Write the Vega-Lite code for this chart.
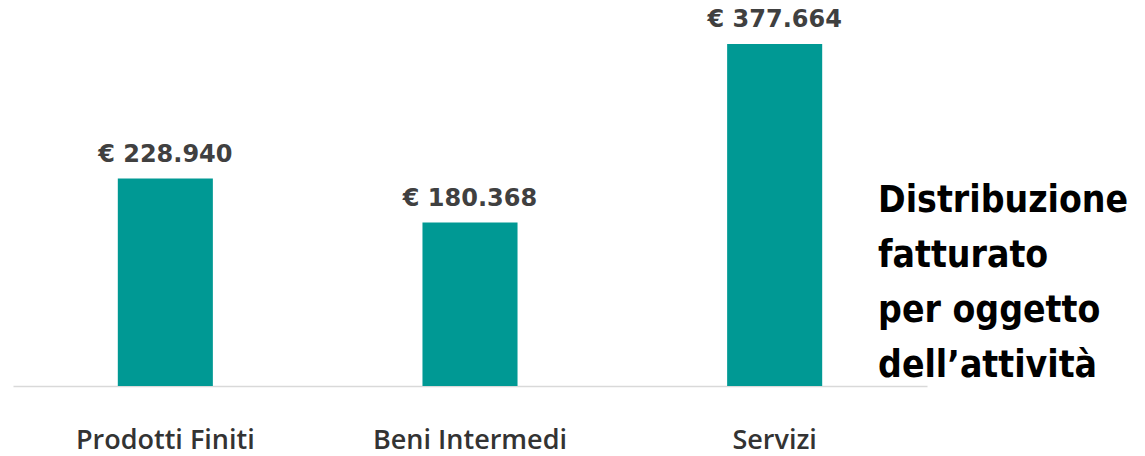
{
  "$schema": "https://vega.github.io/schema/vega-lite/v6.json",
  "width": 914,
  "height": 380,
  "autosize": {"type": "none"},
  "padding": {"left": 13, "top": 6, "right": 218, "bottom": 70},
  "background": "white",
  "config": {
    "view": {"stroke": null},
    "locale": {"number": {"decimal": ",", "thousands": ".", "grouping": [3], "currency": ["€ ", ""]}}
  },
  "title": {
    "text": ["Distribuzione", "fatturato", "per oggetto", "dell’attività"],
    "orient": "right",
    "angle": 0,
    "anchor": "start",
    "align": "left",
    "baseline": "top",
    "font": "DejaVu Sans Condensed",
    "fontWeight": "bold",
    "fontSize": 37,
    "lineHeight": 55,
    "color": "black",
    "offset": -49,
    "dx": -250,
    "dy": 177
  },
  "data": {
    "values": [
      {"categoria": "Prodotti Finiti", "fatturato": 228940},
      {"categoria": "Beni Intermedi", "fatturato": 180368},
      {"categoria": "Servizi", "fatturato": 377664}
    ]
  },
  "encoding": {
    "x": {
      "field": "categoria",
      "type": "nominal",
      "sort": null,
      "scale": {"paddingInner": 0.688, "paddingOuter": 0.344},
      "axis": {
        "title": null,
        "labelAngle": 0,
        "ticks": false,
        "domainColor": "#d9d9d9",
        "domainWidth": 1.5,
        "labelPadding": 54,
        "labelBaseline": "middle",
        "labelLimit": 0,
        "labelFont": "Open Sans",
        "labelFontWeight": 600,
        "labelFontSize": 27,
        "labelColor": "#333333"
      }
    },
    "y": {
      "field": "fatturato",
      "type": "quantitative",
      "scale": {"domain": [0, 419500]},
      "axis": null
    }
  },
  "layer": [
    {"mark": {"type": "bar", "color": "#009994"}},
    {
      "mark": {
        "type": "text",
        "baseline": "bottom",
        "dy": -12,
        "font": "DejaVu Sans",
        "fontWeight": "bold",
        "fontSize": 24,
        "color": "#404040"
      },
      "encoding": {"text": {"field": "fatturato", "type": "quantitative", "format": "$,"}}
    }
  ]
}
